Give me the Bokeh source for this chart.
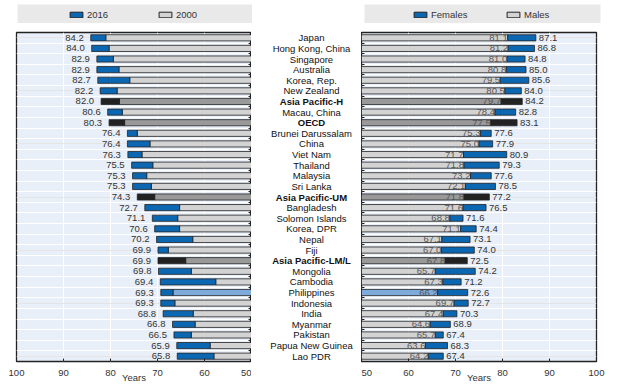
from bokeh.plotting import figure
from bokeh.models import (Range1d, FixedTicker, LinearAxis, ColumnDataSource,
                          Legend, LegendItem, Spacer, Grid)
from bokeh.layouts import row, column
from bokeh.embed import file_html
from bokeh.resources import INLINE
from bokeh.core.properties import value

# ---------------- data ----------------
categories = ["Japan", "Hong Kong, China", "Singapore", "Australia", "Korea, Rep.",
              "New Zealand", "Asia Pacific-H", "Macau, China", "OECD",
              "Brunei Darussalam", "China", "Viet Nam", "Thailand", "Malaysia",
              "Sri Lanka", "Asia Pacific-UM", "Bangladesh", "Solomon Islands",
              "Korea, DPR", "Nepal", "Fiji", "Asia Pacific-LM/L", "Mongolia",
              "Cambodia", "Philippines", "Indonesia", "India", "Myanmar",
              "Pakistan", "Papua New Guinea", "Lao PDR"]
le_2016 = [84.2, 84.0, 82.9, 82.9, 82.7, 82.2, 82.0, 80.6, 80.3, 76.4, 76.4, 76.3,
           75.5, 75.3, 75.3, 74.3, 72.7, 71.1, 70.6, 70.2, 69.9, 69.9, 69.8, 69.4,
           69.3, 69.3, 68.8, 66.8, 66.5, 65.9, 65.8]
le_2000 = [81.0, 80.3, 79.4, 78.2, 75.9, 78.6, 78.1, 77.5, 77.0, 74.3, 71.6, 73.3,
           71.0, 72.3, 71.3, 70.6, 65.3, 65.7, 65.3, 62.5, 67.7, 64.0, 62.8, 57.6,
           66.7, 66.3, 62.4, 62.0, 62.8, 58.8, 58.0]
females = [87.1, 86.8, 84.8, 85.0, 85.6, 84.0, 84.2, 82.8, 83.1, 77.6, 77.9, 80.9,
           79.3, 77.6, 78.5, 77.2, 76.5, 71.6, 74.4, 73.1, 74.0, 72.5, 74.2, 71.2,
           72.6, 72.7, 70.3, 68.9, 67.4, 68.3, 67.4]
males = [81.1, 81.2, 81.0, 80.8, 79.5, 80.5, 79.7, 78.4, 77.5, 75.3, 75.0, 71.7,
         71.8, 73.2, 72.1, 71.8, 71.6, 68.8, 71.1, 67.1, 67.0, 67.8, 65.7, 67.3,
         66.2, 69.7, 67.4, 64.6, 65.7, 63.6, 64.2]
aggregates = ["Asia Pacific-H", "OECD", "Asia Pacific-UM", "Asia Pacific-LM/L"]
highlight = "Philippines"
x_ticks_left = [100, 90, 80, 70, 60, 50]
x_ticks_right = [50, 60, 70, 80, 90, 100]
legend_left = ["2016", "2000"]
legend_right = ["Females", "Males"]

# ---------------- style ----------------
FONT = "Liberation Sans"
FS = "9.5px"
BG = "#e8eff8"
BLUE = "#0b67b2"
GREY = "#d3d3d3"
AGG_NEW = "#222222"
AGG_OLD = "#999999"
HIGH = "#7eaadc"
TXT = "#333333"
LEG_BG = "#e9e9e9"

n = len(categories)
ys = list(range(n))
boundaries = [i - 0.5 for i in range(n + 1)]
yr = Range1d(n - 0.5, -0.5)

is_agg = [c in aggregates for c in categories]
new_col = [AGG_NEW if a else BLUE for a in is_agg]
old_col = [AGG_OLD if a else (HIGH if c == highlight else GREY)
           for a, c in zip(is_agg, categories)]

src = ColumnDataSource(dict(
    y=ys, cat=categories,
    v16=le_2016, v00=le_2000, fem=females, mal=males,
    l16=[f"{v:.1f}" for v in le_2016],
    lfem=[f"{v:.1f}" for v in females],
    lmal=[f"{v:.1f}" for v in males],
    new_col=new_col, old_col=old_col,
    fstyle=["bold" if a else "normal" for a in is_agg],
))

FW = 235
FH = 329
TOP = 9
BOT = 27
BAR_H = 0.58


def style_xaxis(ax, ticks):
    ax.ticker = FixedTicker(ticks=ticks)
    ax.axis_label = "Years"
    ax.axis_label_standoff = -7
    ax.axis_label_text_font = FONT
    ax.axis_label_text_font_size = FS
    ax.axis_label_text_font_style = "normal"
    ax.axis_label_text_color = TXT
    ax.major_label_text_font = FONT
    ax.major_label_text_font_size = FS
    ax.major_label_text_color = TXT
    ax.major_label_standoff = 8
    ax.major_tick_in = 3
    ax.major_tick_out = 0
    ax.major_tick_line_color = "#222222"
    ax.minor_tick_line_color = None
    ax.axis_line_color = None


def cat_ticks_axis():
    # small inward ticks at the row boundaries, no labels
    return LinearAxis(ticker=FixedTicker(ticks=[], minor_ticks=boundaries),
                      major_tick_in=0, major_tick_out=0, major_label_standoff=0,
                      minor_tick_in=3, minor_tick_out=0, axis_line_color=None,
                      minor_tick_line_color="#222222")


# ---------------- left panel ----------------
left = figure(frame_width=FW, frame_height=FH,
              x_range=Range1d(x_ticks_left[0], x_ticks_left[-1]),
              y_range=yr, output_backend="svg", toolbar_location=None,
              min_border_left=16, min_border_right=0, min_border_top=TOP,
              min_border_bottom=BOT, y_axis_location=None,
              background_fill_color=BG, outline_line_color="#222222",
              outline_line_width=1.3)
style_xaxis(left.xaxis[0], x_ticks_left)
left.xgrid.grid_line_color = "white"
left.xgrid.ticker = FixedTicker(ticks=x_ticks_left)
left.add_layout(Grid(dimension=1, ticker=FixedTicker(ticks=boundaries),
                     grid_line_color="white"))
left.add_layout(cat_ticks_axis(), "right")
base_l = min(x_ticks_left)
left.hbar(y="y", left=base_l, right="v00", height=BAR_H, source=src,
          fill_color="old_col", line_color="#222222", line_width=0.8)
left.hbar(y="y", left="v00", right="v16", height=BAR_H, source=src,
          fill_color="new_col", line_color="#222222", line_width=0.8)
left.text(x="v16", y="y", text="l16", source=src, x_offset=-7,
          text_align="right", text_baseline="middle", text_font=value(FONT),
          text_font_size=FS, text_color=TXT)

# ---------------- middle labels ----------------
mid = figure(frame_width=110, frame_height=FH, x_range=Range1d(0, 1), y_range=yr,
             output_backend="svg", toolbar_location=None, min_border_left=0,
             min_border_right=0, min_border_top=TOP, min_border_bottom=BOT,
             x_axis_location=None, y_axis_location=None, outline_line_color=None)
mid.grid.visible = False
mid.text(x=0.5, y="y", text="cat", source=src, x_offset=5, text_align="center",
         text_baseline="middle", text_font=value(FONT), text_font_size=FS,
         text_font_style="fstyle", text_color="#111111")

# ---------------- right panel ----------------
right = figure(frame_width=FW, frame_height=FH,
               x_range=Range1d(x_ticks_right[0], x_ticks_right[-1]),
               y_range=yr, output_backend="svg", toolbar_location=None,
               min_border_left=0, min_border_right=24, min_border_top=TOP,
               min_border_bottom=BOT, y_axis_location=None,
               background_fill_color=BG, outline_line_color="#222222",
               outline_line_width=1.3)
style_xaxis(right.xaxis[0], x_ticks_right)
right.xgrid.grid_line_color = "white"
right.xgrid.ticker = FixedTicker(ticks=x_ticks_right)
right.add_layout(Grid(dimension=1, ticker=FixedTicker(ticks=boundaries),
                      grid_line_color="white"))
right.add_layout(cat_ticks_axis(), "left")
base_r = min(x_ticks_right)
right.hbar(y="y", left=base_r, right="mal", height=BAR_H, source=src,
           fill_color="old_col", line_color="#222222", line_width=0.8)
right.hbar(y="y", left="mal", right="fem", height=BAR_H, source=src,
           fill_color="new_col", line_color="#222222", line_width=0.8)
right.text(x="mal", y="y", text="lmal", source=src, x_offset=0,
           text_align="right", text_baseline="middle", text_font=value(FONT),
           text_font_size=FS, text_color="#555555")
right.text(x="fem", y="y", text="lfem", source=src, x_offset=3,
           text_align="left", text_baseline="middle", text_font=value(FONT),
           text_font_size=FS, text_color=TXT)


# ---------------- legend strips ----------------
def legend_strip(fw, bl, br, labels, colors, loc, label_w, spacing):
    f = figure(frame_width=fw, frame_height=19, x_range=Range1d(0, 1),
               y_range=Range1d(0, 1), output_backend="svg", toolbar_location=None,
               min_border_left=bl, min_border_right=br, min_border_top=0,
               min_border_bottom=0, x_axis_location=None, y_axis_location=None,
               background_fill_color=LEG_BG, outline_line_color=None)
    f.grid.visible = False
    items = []
    for lab, c in zip(labels, colors):
        # hidden proxy renderer, only used for the legend swatch
        r = f.hbar(y="y", left="v00", right="v16", height=0.5, source=src,
                   fill_color=c, line_color="#222222", line_width=1,
                   visible=False)
        items.append(LegendItem(label=lab, renderers=[r]))
    leg = Legend(items=items, orientation="horizontal", location=loc,
                 padding=0, margin=0, spacing=spacing, glyph_width=16,
                 glyph_height=7, label_standoff=3, label_width=label_w,
                 label_height=10, label_text_font=FONT, label_text_font_size=FS,
                 label_text_color=TXT, background_fill_alpha=0,
                 border_line_alpha=0, inactive_fill_alpha=0)
    f.add_layout(leg)
    return f


legL = legend_strip(235, 17, 0, legend_left, [BLUE, GREY], (51, 3), 50, 20)
legR = legend_strip(236, 0, 20, legend_right, [BLUE, GREY], (48, 3), 50, 24)

top = row(legL, Spacer(width=112, height=19), legR)
bottom = row(left, mid, right)
layout = column(Spacer(width=600, height=4), top, bottom)

open("out.html", "w").write(file_html(layout, INLINE))
